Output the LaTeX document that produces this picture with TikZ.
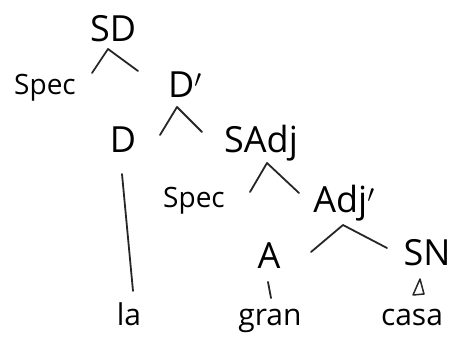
\documentclass[tikz,border=0pt]{standalone}
\usepackage{fontspec}
\setmainfont{Open Sans}
\begin{document}
\begin{tikzpicture}[x=1pt,y=-1pt,
  cat/.style={anchor=base,inner sep=0pt,font=\fontsize{36}{36}\selectfont},
  spec/.style={anchor=base,inner sep=0pt,font=\fontsize{28}{28}\selectfont},
  word/.style={anchor=base,inner sep=0pt,font=\fontsize{30}{30}\selectfont},
  branch/.style={line width=1.8pt,line cap=round,line join=round,draw=black!85}]
\useasboundingbox (0,0) rectangle (455,345);
% labels
\node[cat] (SD) at (113,42) {SD};
\node[spec] (spec1) at (45,95) {Spec};
\node[cat] (Dbar) at (185,97) {D$'$};
\node[cat] (D) at (123,152) {D};
\node[cat] (SAdj) at (261,152) {SAdj};
\node[spec] (spec2) at (194,207) {Spec};
\node[cat] (Adjbar) at (344,212) {Adj$'$};
\node[cat] (A) at (269,268) {A};
\node[cat] (SN) at (427,265) {SN};
\node[word] (la) at (129,325) {la};
\node[word] (gran) at (270,325) {gran};
\node[word] (casa) at (412,325) {casa};
% branch points
\coordinate (sdA) at (108,49);
\coordinate (sdL) at (92,73);
\coordinate (sdR) at (138,71);
\coordinate (dbA) at (177,107);
\coordinate (dbL) at (160,135);
\coordinate (dbR) at (202,132);
\coordinate (saA) at (267,163);
\coordinate (saL) at (250,192);
\coordinate (saR) at (299,193);
\coordinate (abA) at (343,225);
\coordinate (abL) at (311,252);
\coordinate (abR) at (387,248);
\coordinate (dT) at (122,174);
\coordinate (dB) at (133,291);
\coordinate (aT) at (268,282);
\coordinate (aB) at (271,298);
\coordinate (snA) at (420,279);
\coordinate (snL) at (413,295);
\coordinate (snR) at (424,294);
% branches
\draw[branch] (sdL) -- (sdA) -- (sdR);
\draw[branch] (dbL) -- (dbA) -- (dbR);
\draw[branch] (saL) -- (saA) -- (saR);
\draw[branch] (abL) -- (abA) -- (abR);
\draw[branch] (dT) -- (dB);
\draw[branch] (aT) -- (aB);
\draw[branch,line width=1.5pt] (snA) -- (snL) -- (snR) -- cycle;
\end{tikzpicture}
\end{document}
